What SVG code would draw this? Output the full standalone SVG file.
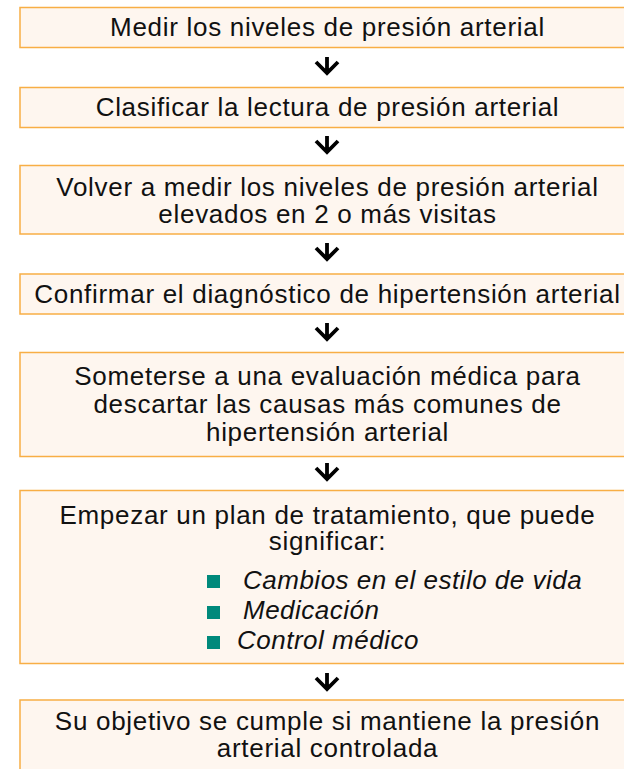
<svg xmlns="http://www.w3.org/2000/svg" width="624" height="769" viewBox="0 0 624 769">
<style>
.box{fill:#FEF6EF;stroke:#F8AE45;stroke-width:1.5}
.t{font-family:"Liberation Sans",Arial,sans-serif;font-size:26px;letter-spacing:0.7px;fill:#111;text-anchor:middle}
.i{font-family:"Liberation Sans",Arial,sans-serif;font-size:26px;letter-spacing:0.5px;fill:#111;font-style:italic}
.b{fill:#00897B}
.arr{fill:none;stroke:#000;stroke-width:3.8;stroke-linecap:butt;stroke-linejoin:miter}
</style>
<rect width="624" height="769" fill="#fff"/>
<g id="n1"><rect class="box" x="20" y="7.5" width="620" height="40"/><text class="t" x="327.5" y="36">Medir los niveles de presión arterial</text></g>
<g id="n2"><rect class="box" x="20" y="87.5" width="620" height="40"/><text class="t" x="327.5" y="116">Clasificar la lectura de presión arterial</text></g>
<g id="n3"><rect class="box" x="20" y="165.5" width="620" height="68.5"/><text class="t" x="327.5" y="195.5">Volver a medir los niveles de presión arterial</text><text class="t" x="327.5" y="222.5">elevados en 2 o más visitas</text></g>
<g id="n4"><rect class="box" x="20" y="274" width="620" height="40"/><text class="t" x="327.5" y="303">Confirmar el diagnóstico de hipertensión arterial</text></g>
<g id="n5"><rect class="box" x="20" y="352.5" width="620" height="104"/><text class="t" x="327.5" y="385">Someterse a una evaluación médica para</text><text class="t" x="327.5" y="413">descartar las causas más comunes de</text><text class="t" x="327.5" y="441">hipertensión arterial</text></g>
<g id="n6"><rect class="box" x="20" y="490.5" width="620" height="173"/><text class="t" x="327.5" y="523.5">Empezar un plan de tratamiento, que puede</text><text class="t" x="327.5" y="550">significar:</text>
<rect class="b" x="207" y="575" width="13" height="13"/><text class="i" x="243" y="589">Cambios en el estilo de vida</text>
<rect class="b" x="207" y="606" width="13" height="13"/><text class="i" x="243" y="619">Medicación</text>
<rect class="b" x="207" y="636" width="13" height="13"/><text class="i" x="237" y="649">Control médico</text></g>
<g id="n7"><rect class="box" x="20" y="700" width="620" height="80"/><text class="t" x="327.5" y="730">Su objetivo se cumple si mantiene la presión</text><text class="t" x="327.5" y="757">arterial controlada</text></g>
<g id="connectors">
<path class="arr" d="M327 57V73M316 62L327 73L338 62"/>
<path class="arr" d="M327 136V152M316 141L327 152L338 141"/>
<path class="arr" d="M327 243V259M316 248L327 259L338 248"/>
<path class="arr" d="M327 323V339M316 328L327 339L338 328"/>
<path class="arr" d="M327 463V479M316 468L327 479L338 468"/>
<path class="arr" d="M327 673V689M316 678L327 689L338 678"/>
</g>
</svg>
